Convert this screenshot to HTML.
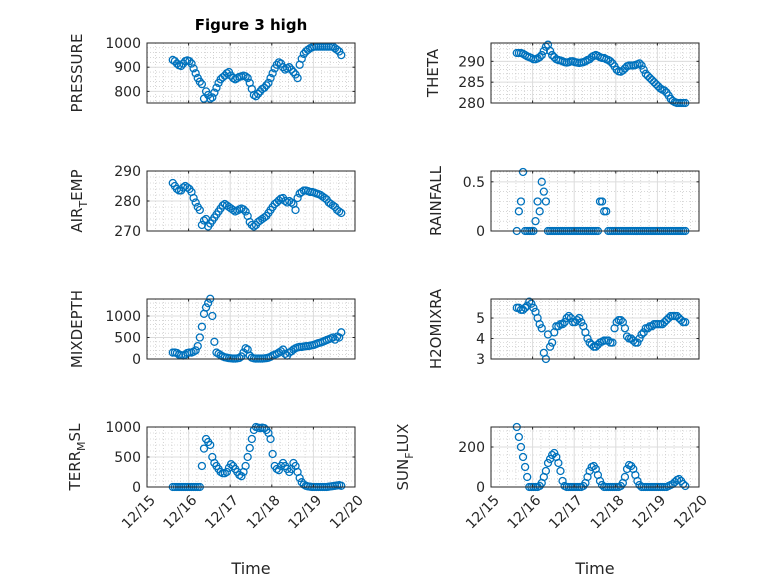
<!DOCTYPE html>
<html><head><meta charset="utf-8"><style>
html,body{margin:0;padding:0;background:#fff}
svg{display:block;font-family:"DejaVu Sans","Liberation Sans",sans-serif}
</style></head><body>
<svg id="fig" width="778" height="583" viewBox="0 0 778 583">
<rect width="778" height="583" fill="#fff"/>
<text x="251" y="30" text-anchor="middle" font-size="15" font-weight="bold" fill="#000">Figure 3 high</text>
</svg>
<script>
const timeDays = [0.62,0.67,0.72,0.77,0.82,0.87,0.92,0.97,1.02,1.07,1.12,1.17,1.22,1.27,1.32,1.37,1.42,1.47,1.52,1.57,1.62,1.67,1.72,1.77,1.82,1.87,1.92,1.97,2.02,2.07,2.12,2.17,2.22,2.27,2.32,2.37,2.42,2.47,2.52,2.57,2.62,2.67,2.72,2.77,2.82,2.87,2.92,2.97,3.02,3.07,3.12,3.17,3.22,3.27,3.32,3.37,3.42,3.47,3.52,3.57,3.62,3.67,3.72,3.77,3.82,3.87,3.92,3.97,4.02,4.07,4.12,4.17,4.22,4.27,4.32,4.37,4.42,4.47,4.52,4.57,4.62,4.67];
const xTickLabels = ["12/15","12/16","12/17","12/18","12/19","12/20"];
const pressure = [930,925,915,908,905,915,925,928,925,915,895,875,855,840,830,770,800,785,770,775,795,815,835,850,858,865,875,880,865,855,850,855,860,862,865,862,855,835,810,785,780,790,800,810,815,825,835,855,875,895,910,920,915,900,890,895,900,890,880,870,855,910,935,955,965,972,978,982,985,985,985,985,985,985,985,985,985,985,978,972,965,950];
const theta = [292,292,292,291.8,291.5,291.2,291,290.8,290.5,290.5,290.7,291,291.5,292.5,293.5,294,292.5,291.5,291,290.5,290.3,290.2,290,289.8,289.7,289.8,290,290,289.8,289.7,289.6,289.7,289.8,290,290.3,290.5,291,291.3,291.5,291.3,291,290.8,290.8,290.5,290.3,290,289.5,288.8,288,287.6,287.5,287.8,288.3,288.8,289,289,289,289.1,289.3,289.5,289,288,287,286.5,286,285.5,285,284.5,284,283.5,283.2,283,282.5,281.8,281,280.5,280.2,280,280,280,280,280];
const airTemp = [286,285,284,283.5,283.5,284.5,285,284.5,284,283,281,279.5,278,277,272,273.5,274,271.5,272.5,273.5,274.5,275.5,276.5,277.5,278.5,279,278.5,278,277.5,277,276.5,276.8,277.2,277.5,277.2,276.5,275,273,272,271.5,272,273,273.5,274,274.5,275,276,277,278,279,279.5,280.2,280.8,281,280,279.5,280,279.5,279,277,281,282.5,283,283.5,283.5,283.3,283,283,282.8,282.5,282.3,282,281.5,281,280.5,279.5,279,278.5,278,277,276.5,276];
const rainfall = [0,0.2,0.3,0.6,0,0,0,0,0,0.1,0.3,0.2,0.5,0.4,0.3,0,0,0,0,0,0,0,0,0,0,0,0,0,0,0,0,0,0,0,0,0,0,0,0,0,0.3,0.3,0.2,0.2,0,0,0,0,0,0,0,0,0,0,0,0,0,0,0,0,0,0,0,0,0,0,0,0,0,0,0,0,0,0,0,0,0,0,0,0,0,0];
const mixDepth = [150,150,140,100,90,80,100,140,150,150,170,200,300,500,750,1050,1200,1300,1400,1000,400,150,120,90,60,40,30,20,15,10,10,15,25,60,150,250,220,80,30,15,10,10,10,10,15,20,30,50,80,100,120,150,180,220,120,80,150,180,220,250,270,280,280,290,300,300,310,320,330,350,370,380,400,420,440,460,480,500,450,520,500,620];
const h2oMix = [5.5,5.5,5.4,5.4,5.5,5.6,5.8,5.7,5.5,5.3,5.0,4.7,4.5,3.3,3.0,4.2,3.6,3.8,4.3,4.6,4.6,4.7,4.7,4.8,5.0,5.1,5.0,4.8,4.8,4.9,5.0,4.8,4.6,4.3,4.0,3.8,3.7,3.6,3.6,3.7,3.8,3.85,3.9,3.9,3.9,3.8,3.8,4.5,4.8,4.9,4.9,4.8,4.5,4.1,4.0,4.0,3.9,3.8,3.8,4.0,4.2,4.3,4.5,4.5,4.6,4.6,4.7,4.7,4.7,4.7,4.7,4.8,4.9,5.0,5.1,5.1,5.1,5.1,5.0,4.9,4.8,4.8];
const terrMsl = [0,0,0,0,0,0,0,0,0,0,0,0,0,0,350,640,800,750,700,500,400,350,300,250,230,230,250,320,380,350,300,250,200,180,250,350,500,650,800,950,1000,990,980,990,980,950,900,800,550,350,300,280,350,400,350,300,250,300,400,350,250,150,80,40,20,10,5,0,0,0,0,0,0,0,0,5,10,15,20,25,30,20];
const sunFlux = [300,250,200,150,100,50,0,0,0,0,0,5,20,50,80,120,140,160,170,150,120,80,30,5,0,0,0,0,0,0,0,0,5,20,50,80,100,105,90,60,30,10,0,0,0,0,0,0,0,0,5,20,50,90,110,105,90,60,30,10,0,0,0,0,0,0,0,0,0,0,0,0,0,5,10,15,25,35,40,30,15,5];
const pressureTicks = [800,900,1000];
const thetaTicks = [280,285,290];
const airTempTicks = [270,280,290];
const rainTicks = [0,0.5];
const mixTicks = [0,500,1000];
const h2oTicks = [3,4,5];
const terrTicks = [0,500,1000];
const sunTicks = [0,200];

const svg = document.getElementById('fig');
const NS = 'http://www.w3.org/2000/svg';
function mk(tag, attrs, parent){const e=document.createElementNS(NS,tag);for(const k in attrs)e.setAttribute(k,attrs[k]);(parent||svg).appendChild(e);return e;}

const panels = [
 {key:'pressure',x0:147,y0:43,ymin:752,ymax:1000,ticks:pressureTicks,minor:20,data:pressure,label:['PRESSURE'],lx:82},
 {key:'theta',x0:491,y0:43,ymin:280,ymax:294.4,ticks:thetaTicks,minor:1,data:theta,label:['THETA'],lx:438},
 {key:'air-temp',x0:147,y0:171,ymin:270,ymax:290,ticks:airTempTicks,minor:2,data:airTemp,label:['AIR','T','EMP'],lx:82},
 {key:'rainfall',x0:491,y0:171,ymin:0,ymax:0.61,ticks:rainTicks,minor:0.1,data:rainfall,label:['RAINFALL'],lx:441},
 {key:'mixdepth',x0:147,y0:299,ymin:0,ymax:1395,ticks:mixTicks,minor:100,data:mixDepth,label:['MIXDEPTH'],lx:82},
 {key:'h2omixra',x0:491,y0:299,ymin:3,ymax:5.93,ticks:h2oTicks,minor:0.2,data:h2oMix,label:['H2OMIXRA'],lx:441},
 {key:'terr-msl',x0:147,y0:427,ymin:0,ymax:1000,ticks:terrTicks,minor:100,data:terrMsl,label:['TERR','M','SL'],lx:80},
 {key:'sun-flux',x0:491,y0:427,ymin:0,ymax:300,ticks:sunTicks,minor:40,data:sunFlux,label:['SUN','F','LUX'],lx:408}
];
const W=208,H=60;
panels.forEach((p,pi)=>{
  const g=mk('g',{});
  
  
  const xs=d=>p.x0+d/5*W;
  const ys=v=>p.y0+H-(v-p.ymin)/(p.ymax-p.ymin)*H;
  for(let d=0.2;d<5;d+=0.2){ if(Math.abs(d-Math.round(d))<1e-6)continue;
    mk('line',{x1:xs(d),x2:xs(d),y1:p.y0,y2:p.y0+H,stroke:'#bdbdbd','stroke-width':0.6,'stroke-dasharray':'1 2'},g);}
  for(let v=Math.ceil(p.ymin/p.minor)*p.minor;v<p.ymax;v+=p.minor){
    if(p.ticks.some(t=>Math.abs(t-v)<1e-6))continue;
    mk('line',{x1:p.x0,x2:p.x0+W,y1:ys(v),y2:ys(v),stroke:'#bdbdbd','stroke-width':0.6,'stroke-dasharray':'1 2'},g);}
  for(let d=1;d<5;d++) mk('line',{x1:xs(d),x2:xs(d),y1:p.y0,y2:p.y0+H,stroke:'#dcdcdc','stroke-width':1},g);
  p.ticks.forEach(t=>mk('line',{x1:p.x0,x2:p.x0+W,y1:ys(t),y2:ys(t),stroke:'#dcdcdc','stroke-width':1},g));
  const sg=mk('g',{fill:'none',stroke:'#0072BD','stroke-width':1.3},g);
  
  
  p.data.forEach((v,i)=>{
    const c=mk('circle',{cx:xs(timeDays[i]).toFixed(2),cy:ys(v).toFixed(2),r:3.5},sg);
    
    
  });
  mk('rect',{x:p.x0,y:p.y0,width:W,height:H,fill:'none',stroke:'#262626','stroke-width':1},g);
  for(let d=0;d<=5;d++){mk('line',{x1:xs(d),x2:xs(d),y1:p.y0+H,y2:p.y0+H-2.5,stroke:'#262626'},g);mk('line',{x1:xs(d),x2:xs(d),y1:p.y0,y2:p.y0+2.5,stroke:'#262626'},g);}
  p.ticks.forEach(t=>{
    mk('line',{x1:p.x0,x2:p.x0+2.5,y1:ys(t),y2:ys(t),stroke:'#262626'},g);
    mk('line',{x1:p.x0+W,x2:p.x0+W-2.5,y1:ys(t),y2:ys(t),stroke:'#262626'},g);
    const tl=mk('text',{x:p.x0-6,y:ys(t)+5,'text-anchor':'end','font-size':14,fill:'#262626'},g);
    tl.textContent=String(t);
    
    
  });
  const cy=p.y0+H/2;
  const yl=mk('text',{x:0,y:0,transform:`translate(${p.lx},${cy}) rotate(-90)`,'text-anchor':'middle','font-size':15,fill:'#262626'},g);
  
  
  if(p.label.length===1){yl.textContent=p.label[0];}
  else{
    const a=mk('tspan',{},yl);a.textContent=p.label[0];
    const b=mk('tspan',{dy:5,'font-size':11},yl);b.textContent=p.label[1];
    const c=mk('tspan',{dy:-5},yl);c.textContent=p.label[2];
  }
  if(pi>=6){
    xTickLabels.forEach((lab,d)=>{
      const tx=mk('text',{transform:`translate(${xs(d)+9},${p.y0+H+14}) rotate(-45)`,'text-anchor':'end','font-size':14,fill:'#262626'},g);
      tx.textContent=lab;
      
      
    });
    const xt=mk('text',{x:p.x0+W/2,y:574,'text-anchor':'middle','font-size':16,fill:'#262626'},g);
    xt.textContent='Time';
    
    
  }
});
</script>
</body></html>
